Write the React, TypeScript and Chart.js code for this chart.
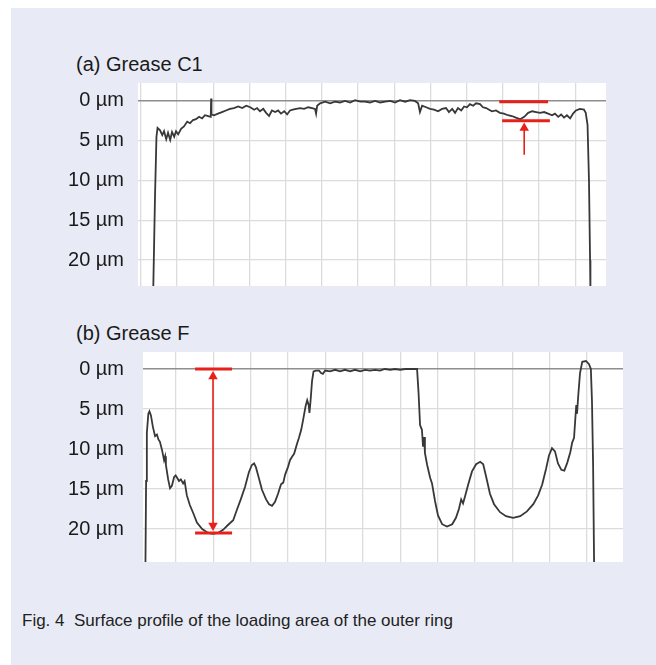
import React, { useEffect, useRef } from "react";
import { Chart, registerables } from "chart.js";

Chart.register(...registerables);

const FONT = '"Liberation Sans", Arial, Helvetica, sans-serif';
const RED = "#e8201a";
const TRACE = "#383838";

// Depth axis (µm, downward positive)
const depthTicks = [0, 5, 10, 15, 20];
const depthTickLabels = ["0 µm", "5 µm", "10 µm", "15 µm", "20 µm"];

// Horizontal grid divisions of the chart paper
const gridDivisionsA = [0, 1, 2, 3, 4, 5, 6, 7, 8, 9, 10, 11, 12];
const gridDivisionsB = [0, 1, 2, 3, 4, 5, 6, 7, 8, 9, 10, 11];

const panelTitles = ["(a) Grease C1", "(b) Grease F"];
const captionText = "Fig. 4  Surface profile of the loading area of the outer ring";

// (a) Grease C1 profile: position (divisions) / depth (µm)
const profileAX = [
  0.34, 0.39, 0.43, 0.46, 0.53, 0.59, 0.64, 0.7, 0.75, 0.81,
  0.86, 0.92, 0.97, 1.03, 1.11, 1.19, 1.28, 1.36, 1.44, 1.52,
  1.61, 1.69, 1.77, 1.86, 1.93, 1.94, 1.95, 2.02, 2.13, 2.24,
  2.35, 2.46, 2.57, 2.69, 2.8, 2.91, 3.02, 3.13, 3.21, 3.29,
  3.38, 3.46, 3.54, 3.62, 3.71, 3.79, 3.87, 3.96, 4.04, 4.12,
  4.2, 4.29, 4.4, 4.51, 4.62, 4.73, 4.81, 4.84, 4.87, 4.95,
  5.09, 5.23, 5.36, 5.5, 5.64, 5.78, 5.92, 6.06, 6.19, 6.33,
  6.47, 6.61, 6.75, 6.89, 7.02, 7.16, 7.3, 7.44, 7.57, 7.66,
  7.71, 7.77, 7.88, 7.99, 8.1, 8.21, 8.32, 8.43, 8.51, 8.6,
  8.68, 8.76, 8.85, 8.93, 9.01, 9.09, 9.18, 9.26, 9.37, 9.45,
  9.54, 9.62, 9.7, 9.81, 9.92, 10.03, 10.14, 10.25, 10.36, 10.48,
  10.59, 10.7, 10.81, 10.92, 11.03, 11.14, 11.25, 11.36, 11.44, 11.53,
  11.61, 11.69, 11.77, 11.86, 11.94, 12.02, 12.13, 12.24, 12.29, 12.34,
  12.38, 12.41, 12.42,
];
const profileAY = [
  24, 12, 4.5, 3.4, 3.7, 4.3, 3.8, 4.8, 4.0, 4.9,
  3.9, 4.5, 3.8, 4.2, 3.5, 3.2, 2.6, 2.8, 2.4, 2.3,
  2.0, 2.2, 1.8, 1.9, 2.0, -0.3, 1.7, 1.8, 1.6, 1.4,
  1.2, 1.0, 0.9, 0.7, 0.9, 0.6, 0.8, 1.1, 0.9, 1.3,
  1.0, 1.5, 1.9, 1.2, 1.4, 1.2, 1.6, 1.3, 1.7, 1.2,
  1.1, 1.0, 0.9, 1.0, 0.8, 0.9, 1.0, 1.6, 0.6, 0.3,
  0.1, 0.3, 0.1, 0.2, 0.0, 0.2, -0.1, 0.1, 0.1, 0.2,
  0.0, 0.2, 0.1, 0.0, 0.2, -0.1, 0.1, -0.1, 0.0, 0.3,
  1.4, 0.6, 0.8, 1.0, 1.1, 1.3, 1.0, 0.9, 1.4, 1.0,
  1.5, 0.9, 1.2, 0.7, 0.8, 0.4, 0.6, 0.3, 0.4, 0.8,
  0.9, 1.1, 1.3, 1.2, 1.5, 1.6, 1.8, 1.9, 2.1, 2.3,
  2.0, 1.5, 1.3, 1.4, 1.5, 1.4, 1.6, 1.8, 1.6, 2.0,
  1.7, 2.1, 1.8, 2.2, 1.6, 1.2, 1.0, 1.1, 1.5, 3,
  10, 20, 24,
];

// (b) Grease F profile
const profileBX = [
  -0.82, -0.8, -0.78, -0.74, -0.71, -0.67, -0.62, -0.56, -0.51, -0.47,
  -0.43, -0.37, -0.32, -0.29, -0.27, -0.21, -0.16, -0.11, -0.05, -0.01,
  0.03, 0.08, 0.13, 0.19, 0.23, 0.29, 0.37, 0.46, 0.56, 0.7,
  0.86, 0.99, 1.12, 1.26, 1.39, 1.53, 1.63, 1.74, 1.85, 1.95,
  2.03, 2.09, 2.14, 2.22, 2.3, 2.41, 2.49, 2.57, 2.65, 2.73,
  2.81, 2.87, 2.92, 3.0, 3.05, 3.1, 3.16, 3.24, 3.29, 3.35,
  3.4, 3.43, 3.47, 3.51, 3.55, 3.57, 3.6, 3.64, 3.68, 3.75,
  3.83, 3.88, 3.93, 3.99, 4.12, 4.26, 4.39, 4.52, 4.66, 4.79,
  4.93, 5.06, 5.19, 5.33, 5.46, 5.59, 5.73, 5.86, 6.0, 6.13,
  6.26, 6.45, 6.49, 6.53, 6.58, 6.61, 6.64, 6.66, 6.72, 6.8,
  6.85, 6.93, 7.01, 7.12, 7.25, 7.39, 7.49, 7.57, 7.63, 7.68,
  7.74, 7.82, 7.92, 8.03, 8.14, 8.22, 8.3, 8.4, 8.51, 8.67,
  8.83, 9.02, 9.21, 9.39, 9.56, 9.69, 9.8, 9.9, 9.98, 10.06,
  10.14, 10.22, 10.31, 10.39, 10.47, 10.55, 10.6, 10.65, 10.68, 10.71,
  10.73, 10.76, 10.81, 10.87, 10.97, 11.05, 11.1, 11.13, 11.16, 11.19,
];
const profileBY = [
  26, 14, 8, 5.6, 5.3, 5.8, 7.2, 8.4, 8.2, 8.8,
  9.1, 10.2, 11.4, 10.9, 12.0, 13.8, 14.9, 14.6, 13.5, 13.3,
  13.6, 14.0, 13.8, 14.3, 14.0, 15.8, 17.0, 18.0, 19.2, 20.0,
  20.5, 20.6, 20.5, 20.1, 19.5, 18.9, 17.6, 16.2, 14.7, 12.9,
  12.0, 11.8, 12.3, 13.7, 15.1, 16.3, 16.9, 17.1, 16.6, 15.6,
  14.4, 14.2, 13.2, 12.2, 11.4, 11.0, 10.6, 9.3, 8.6, 7.6,
  6.4, 5.6, 4.6, 3.9, 4.5, 5.5, 4.0, 1.5, 0.3, 0.2,
  0.2, 0.5, 0.6, 0.2, 0.3, 0.1, 0.3, 0.1, 0.3, 0.1,
  0.3, 0.1, 0.2, 0.1, 0.2, 0.0, 0.1, 0.0, 0.1, 0.0,
  0.0, 0.0, 3, 7, 7.6, 9.7, 8.5, 10.5, 12, 13.6,
  14.3, 16.5, 18.3, 19.4, 19.7, 19.4, 18.6, 17.5, 16.3, 16.8,
  15.8, 14.4, 12.8, 11.9, 11.6, 11.9, 13.5, 15.6, 16.9, 17.9,
  18.4, 18.6, 18.4, 17.8, 16.9, 15.8, 14.4, 12.5, 10.8, 9.9,
  10.3, 11.8, 12.6, 12.7, 11.7, 10.4, 9.2, 8.6, 6.5, 4.5,
  5.6, 3.5, 0.5, -0.9, -1.0, -0.6, 0.0, 4, 12, 26,
];

// Red measurement marks, panel (a)
const markAUpperX = [9.9, 11.25];
const markAUpperY = [0.1, 0.1];
const markALowerX = [9.98, 11.3];
const markALowerY = [2.5, 2.5];
const arrowAX = [10.59, 10.59];
const arrowAY = [6.75, 3.4];

// Red measurement marks, panel (b)
const markBTopX = [0.51, 1.5];
const markBTopY = [0, 0];
const markBBottomX = [0.51, 1.5];
const markBBottomY = [20.5, 20.5];
const arrowBX = [0.99, 0.99];
const arrowBY = [0.95, 19.55];

function pts(xs: number[], ys: number[]) {
  return xs.map((x, i) => ({ x, y: ys[i] }));
}

const whiteArea = {
  id: "whiteArea",
  beforeDraw(chart: any) {
    const { ctx, chartArea: a } = chart;
    ctx.save();
    ctx.fillStyle = "#ffffff";
    ctx.fillRect(a.left, a.top, a.right - a.left, a.bottom - a.top);
    ctx.restore();
  },
};

type PanelProps = {
  left: number;
  top: number;
  width: number;
  height: number;
  padTop: number;
  padRight: number;
  axisWidth: number;
  tickPad: number;
  xMin: number;
  xMax: number;
  yMin: number;
  yMax: number;
  gridX: number[];
  datasets: any[];
};

function ProfilePanel(p: PanelProps) {
  const ref = useRef<HTMLCanvasElement | null>(null);
  useEffect(() => {
    if (!ref.current) return;
    const chart = new Chart(ref.current, {
      type: "line",
      data: { datasets: p.datasets },
      options: {
        responsive: false,
        animation: false,
        devicePixelRatio: 1,
        events: [],
        layout: { padding: { left: 0, right: p.padRight, top: p.padTop, bottom: 32 } },
        plugins: {
          legend: { display: false },
          tooltip: { enabled: false },
          title: { display: false },
        },
        scales: {
          x: {
            type: "linear",
            min: p.xMin,
            max: p.xMax,
            afterBuildTicks: (s: any) => {
              s.ticks = p.gridX.map((v) => ({ value: v }));
            },
            afterFit: (s: any) => {
              s.height = 0;
            },
            ticks: { display: false },
            grid: { color: "#dcdcdc", lineWidth: 1.3, drawTicks: false },
            border: { display: false },
          },
          y: {
            type: "linear",
            reverse: true,
            min: p.yMin,
            max: p.yMax,
            afterBuildTicks: (s: any) => {
              s.ticks = depthTicks.map((v) => ({ value: v }));
            },
            afterFit: (s: any) => {
              s.width = p.axisWidth;
            },
            ticks: {
              padding: p.tickPad,
              color: "#1a1a1a",
              font: { family: FONT, size: 20, lineHeight: 1.2 },
              callback: (v: any) => {
                const i = depthTicks.indexOf(Number(v));
                return i >= 0 ? depthTickLabels[i] : "";
              },
            },
            grid: {
              drawTicks: false,
              color: (c: any) => (c.tick && c.tick.value === 0 ? "#8e8e8e" : "#dcdcdc"),
              lineWidth: (c: any) => (c.tick && c.tick.value === 0 ? 1.6 : 1.3),
            },
            border: { display: false },
          },
        },
      } as any,
      plugins: [whiteArea],
    });
    return () => chart.destroy();
  }, []);
  return (
    <canvas
      ref={ref}
      width={p.width}
      height={p.height}
      style={{ position: "absolute", left: p.left, top: p.top, width: p.width, height: p.height }}
    />
  );
}

function markLine(data: any[]) {
  return { data, borderColor: RED, borderWidth: 3, pointRadius: 0, order: 0, tension: 0 };
}

function arrowLine(data: any[], radii: number[], rotations: number[]) {
  return {
    data,
    borderColor: RED,
    borderWidth: 1.6,
    pointRadius: radii,
    pointStyle: "triangle",
    pointRotation: rotations,
    pointBackgroundColor: RED,
    pointBorderColor: RED,
    pointBorderWidth: 0,
    order: 0,
    tension: 0,
  };
}

function traceLine(data: any[]) {
  return { data, borderColor: TRACE, borderWidth: 1.8, pointRadius: 0, order: 1, tension: 0 };
}

const titleStyle = (top: number): React.CSSProperties => ({
  position: "absolute",
  left: 76,
  top,
  fontFamily: FONT,
  fontSize: 20,
  lineHeight: "24px",
  color: "#1a1a1a",
  whiteSpace: "pre",
});

export default function App() {
  const datasetsA = [
    markLine(pts(markAUpperX, markAUpperY)),
    markLine(pts(markALowerX, markALowerY)),
    arrowLine(pts(arrowAX, arrowAY), [0, 5.5], [0, 0]),
    traceLine(pts(profileAX, profileAY)),
  ];
  const datasetsB = [
    markLine(pts(markBTopX, markBTopY)),
    markLine(pts(markBBottomX, markBBottomY)),
    arrowLine(pts(arrowBX, arrowBY), [5.5, 5.5], [0, 180]),
    traceLine(pts(profileBX, profileBY)),
  ];
  return (
    <div style={{ position: "absolute", left: 0, top: 0, width: 656, height: 665, background: "#ffffff", overflow: "hidden" }}>
      <div style={{ position: "absolute", left: 11, top: 8, width: 645, height: 657, background: "#e8ebf5" }} />
      <div style={titleStyle(52)}>{panelTitles[0]}</div>
      <div style={titleStyle(321)}>{panelTitles[1]}</div>
      <ProfilePanel
        left={11}
        top={40}
        width={620}
        height={278}
        padTop={43}
        padRight={25}
        axisWidth={127}
        tickPad={14}
        xMin={-0.08}
        xMax={12.85}
        yMin={-2.25}
        yMax={23.25}
        gridX={gridDivisionsA}
        datasets={datasetsA}
      />
      <ProfilePanel
        left={11}
        top={310}
        width={640}
        height={284}
        padTop={42}
        padRight={28}
        axisWidth={132}
        tickPad={19}
        xMin={-0.883}
        xMax={11.96}
        yMin={-2.125}
        yMax={24.125}
        gridX={gridDivisionsB}
        datasets={datasetsB}
      />
      <div
        style={{
          position: "absolute",
          left: 22,
          top: 611,
          fontFamily: FONT,
          fontSize: 17,
          lineHeight: "20px",
          color: "#222222",
          whiteSpace: "pre",
        }}
      >
        {captionText}
      </div>
    </div>
  );
}
